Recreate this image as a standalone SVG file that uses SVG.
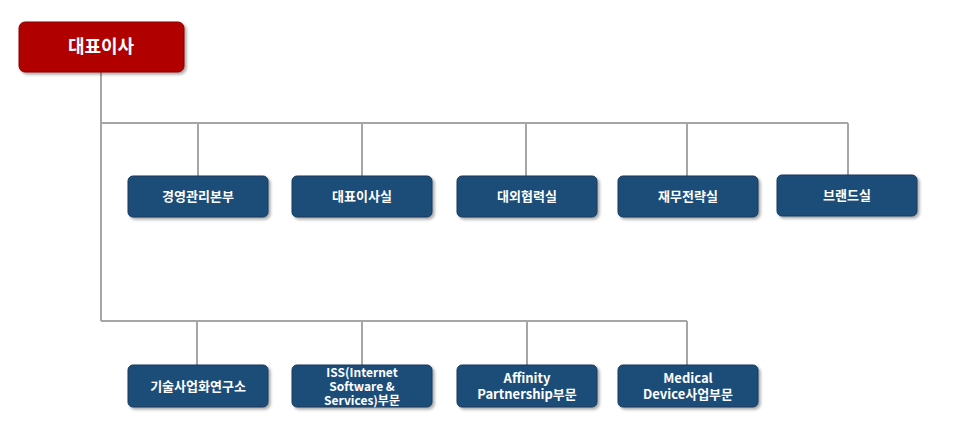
<svg xmlns="http://www.w3.org/2000/svg" width="965" height="437" viewBox="0 0 965 437">
<style>
.b{fill:#1f4e79;stroke:#16395a;stroke-width:1}
.r{fill:#b00000;stroke:#8a0000;stroke-width:1}
.t{fill:#fff;font-family:"Noto Sans CJK KR","Noto Sans",sans-serif;font-size:13px;font-weight:bold;text-anchor:middle}
.c{stroke:#a6a6a6;stroke-width:2;fill:none}
</style>
<defs><filter id="s" x="-10%" y="-10%" width="130%" height="140%"><feDropShadow dx="2" dy="2" stdDeviation="1.5" flood-color="#000" flood-opacity="0.35"/></filter></defs>
<rect width="965" height="437" fill="#fff"/>
<g id="connectors">
<path class="c" d="M101 72V321M101 123H848M198 123V176M362 123V176M526 123V176M687 123V176M848 123V175M101 321H687M197 321V365M362 321V365M527 321V365M687 321V365"/>
</g>
<g id="ceo"><rect class="r" x="19" y="22" width="165" height="50" rx="6" filter="url(#s)"/><text class="t" x="101" y="53" style="font-size:18px">대표이사</text></g>
<g id="n1"><rect class="b" x="128" y="176" width="140" height="41" rx="5" filter="url(#s)"/><text class="t" x="198" y="201">경영관리본부</text></g>
<g id="n2"><rect class="b" x="292" y="176" width="140" height="41" rx="5" filter="url(#s)"/><text class="t" x="362" y="201">대표이사실</text></g>
<g id="n3"><rect class="b" x="457" y="176" width="140" height="41" rx="5" filter="url(#s)"/><text class="t" x="527" y="201">대외협력실</text></g>
<g id="n4"><rect class="b" x="618" y="176" width="140" height="41" rx="5" filter="url(#s)"/><text class="t" x="688" y="201">재무전략실</text></g>
<g id="n5"><rect class="b" x="777" y="175" width="140" height="41" rx="5" filter="url(#s)"/><text class="t" x="847" y="200">브랜드실</text></g>
<g id="n6"><rect class="b" x="128" y="365" width="140" height="42" rx="5" filter="url(#s)"/><text class="t" x="198" y="391">기술사업화연구소</text></g>
<g id="n7"><rect class="b" x="292" y="365" width="140" height="42" rx="5" filter="url(#s)"/><text class="t" x="362" y="377" style="font-size:12px">ISS(Internet</text><text class="t" x="362" y="391" style="font-size:12px">Software &amp;</text><text class="t" x="362" y="405" style="font-size:12px">Services)부문</text></g>
<g id="n8"><rect class="b" x="457" y="365" width="140" height="42" rx="5" filter="url(#s)"/><text class="t" x="527" y="383">Affinity</text><text class="t" x="527" y="399">Partnership부문</text></g>
<g id="n9"><rect class="b" x="618" y="365" width="140" height="42" rx="5" filter="url(#s)"/><text class="t" x="688" y="383">Medical</text><text class="t" x="688" y="399">Device사업부문</text></g>
</svg>
